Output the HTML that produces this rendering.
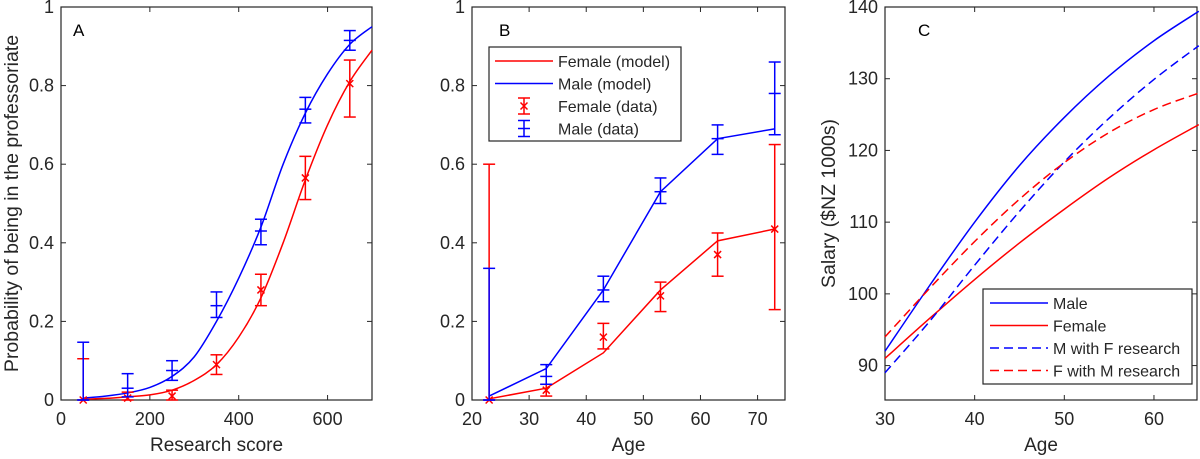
<!DOCTYPE html>
<html><head><meta charset="utf-8">
<style>
html,body{margin:0;padding:0;background:#fff;}
svg{display:block;font-family:"Liberation Sans",Arial,sans-serif;}
</style></head>
<body>
<svg id="chart" width="1200" height="459" viewBox="0 0 1200 459" xmlns="http://www.w3.org/2000/svg"></svg>
<script>
// ---------- Panel A data ----------
const aCurveX = [50,100,150,200,250,300,350,400,450,500,550,600,650,700];
const aMaleModel = [0.005,0.01,0.018,0.032,0.06,0.11,0.2,0.31,0.44,0.6,0.73,0.83,0.905,0.95];
const aFemaleModel = [0.002,0.004,0.008,0.013,0.025,0.05,0.09,0.16,0.26,0.4,0.56,0.7,0.81,0.89];
const aDataX = [50,150,250,350,450,550,650];
const aMaleData = [0,0.03,0.075,0.24,0.43,0.74,0.915];
const aMaleLo = [0,0.008,0.05,0.21,0.395,0.705,0.89];
const aMaleHi = [0.147,0.067,0.1,0.275,0.46,0.77,0.94];
const aFemaleData = [0,0.005,0.01,0.09,0.28,0.565,0.805];
const aFemaleLo = [0,0,0,0.065,0.24,0.51,0.72];
const aFemaleHi = [0.105,0.02,0.025,0.115,0.32,0.62,0.865];
const aXTicks = [0,200,400,600];
const aYTicks = [0,0.2,0.4,0.6,0.8,1];
// ---------- Panel B data ----------
const bAges = [23,33,43,53,63,73];
const bMaleModel = [0.01,0.08,0.28,0.53,0.665,0.69];
const bFemaleModel = [0.003,0.03,0.12,0.28,0.405,0.435];
const bMaleData = [0,0.06,0.28,0.53,0.665,0.78];
const bMaleLo = [0,0.04,0.25,0.5,0.625,0.675];
const bMaleHi = [0.335,0.09,0.315,0.565,0.7,0.86];
const bFemaleData = [0,0.025,0.16,0.265,0.37,0.435];
const bFemaleLo = [0,0.01,0.13,0.225,0.315,0.23];
const bFemaleHi = [0.6,0.04,0.195,0.3,0.425,0.65];
const bXTicks = [20,30,40,50,60,70];
const bYTicks = [0,0.2,0.4,0.6,0.8,1];
// ---------- Panel C data ----------
const cAges = [30,35,40,45,50,55,60,65];
const cMale = [92,101.2,110,117.9,124.6,130.4,135.3,139.4];
const cFemale = [91,96.6,102,107.1,111.8,116.2,120.1,123.6];
const cMaleFRes = [89,96.2,104,111.5,118.4,124.5,129.9,134.6];
const cFemaleMRes = [94,100.8,107.3,113.2,118.3,122.5,125.7,128];
const cXTicks = [30,40,50,60];
const cYTicks = [90,100,110,120,130,140];

const NS="http://www.w3.org/2000/svg";
const svg=document.getElementById('chart');
function mk(tag,attrs,parent){const e=document.createElementNS(NS,tag);for(const k in attrs)e.setAttribute(k,attrs[k]);(parent||svg).appendChild(e);return e;}
const RED='#ff0000', BLUE='#0000ff', TXT='#262626';

function smoothPath(pts){
  let d='M'+pts[0][0]+','+pts[0][1];
  for(let i=0;i<pts.length-1;i++){
    const p0=pts[Math.max(0,i-1)],p1=pts[i],p2=pts[i+1],p3=pts[Math.min(pts.length-1,i+2)];
    const c1=[p1[0]+(p2[0]-p0[0])/6,p1[1]+(p2[1]-p0[1])/6];
    const c2=[p2[0]-(p3[0]-p1[0])/6,p2[1]-(p3[1]-p1[1])/6];
    d+=' C'+c1[0]+','+c1[1]+' '+c2[0]+','+c2[1]+' '+p2[0]+','+p2[1];
  }
  return d;
}

function makeAxes(cfg){
  const g=mk('g',{});
  
  
  const sx=v=>cfg.x0+(v-cfg.xmin)/(cfg.xmax-cfg.xmin)*(cfg.x1-cfg.x0);
  const sy=v=>cfg.y1-(v-cfg.ymin)/(cfg.ymax-cfg.ymin)*(cfg.y1-cfg.y0);
  const fmt=cfg.fmt||(v=>String(v));
  cfg.xticks.forEach(t=>{
    const x=sx(t);
    mk('line',{x1:x,y1:cfg.y1,x2:x,y2:cfg.y1-5,stroke:TXT,'stroke-width':1},g);
    mk('line',{x1:x,y1:cfg.y0,x2:x,y2:cfg.y0+5,stroke:TXT,'stroke-width':1},g);
    const tx=mk('text',{x:x,y:cfg.y1+25,'text-anchor':'middle','font-size':18,fill:TXT},g);
    tx.textContent=t;
    
    
  });
  cfg.yticks.forEach(t=>{
    const y=sy(t);
    mk('line',{x1:cfg.x0,y1:y,x2:cfg.x0+5,y2:y,stroke:TXT,'stroke-width':1},g);
    mk('line',{x1:cfg.x1,y1:y,x2:cfg.x1-5,y2:y,stroke:TXT,'stroke-width':1},g);
    const tx=mk('text',{x:cfg.x0-7,y:y+6,'text-anchor':'end','font-size':18,fill:TXT},g);
    tx.textContent=fmt(t);
    
    
  });
  const box=mk('rect',{x:cfg.x0,y:cfg.y0,width:cfg.x1-cfg.x0,height:cfg.y1-cfg.y0,fill:'none',stroke:TXT,'stroke-width':1.2},g);
  
  
  const xl=mk('text',{x:(cfg.x0+cfg.x1)/2,y:cfg.y1+51,'text-anchor':'middle','font-size':19,fill:TXT},g);
  xl.textContent=cfg.xlabel;
  
  
  if(cfg.ylabel){
    const yl=mk('text',{x:0,y:0,'text-anchor':'middle','font-size':19.5,fill:TXT,transform:'translate('+cfg.ylx+','+((cfg.y0+cfg.y1)/2)+') rotate(-90)'},g);
    yl.textContent=cfg.ylabel;
    
    
  }
  const pl=mk('text',{x:cfg.x0+cfg.plx,y:cfg.y0+29,'font-size':17,fill:'#000'},g);
  pl.textContent=cfg.panel;
  
  
  return {g,sx,sy};
}

function drawLine(ax,xs,ys,color,dash,name,smooth){
  const pts=xs.map((x,i)=>[ax.sx(x),ax.sy(ys[i])]);
  const d=smooth?smoothPath(pts):'M'+pts.map(p=>p.join(',')).join(' L');
  const p=mk('path',{d:d,fill:'none',stroke:color,'stroke-width':1.5,'stroke-dasharray':dash||'none'},ax.g);
  
  
}

function drawErr(ax,xs,ys,lo,hi,color,marker,name){
  xs.forEach((xv,i)=>{
    const g=mk('g',{},ax.g);
    
    
    const x=ax.sx(xv),y=ax.sy(ys[i]),yl=ax.sy(lo[i]),yh=ax.sy(hi[i]);
    mk('line',{x1:x,y1:yl,x2:x,y2:yh,stroke:color,'stroke-width':1.5},g);
    mk('line',{x1:x-6,y1:yl,x2:x+6,y2:yl,stroke:color,'stroke-width':1.5},g);
    mk('line',{x1:x-6,y1:yh,x2:x+6,y2:yh,stroke:color,'stroke-width':1.5},g);
    if(marker==='x'){
      mk('path',{d:'M'+(x-3.5)+','+(y-3.5)+' L'+(x+3.5)+','+(y+3.5)+' M'+(x-3.5)+','+(y+3.5)+' L'+(x+3.5)+','+(y-3.5),stroke:color,'stroke-width':1.5},g);
    } else {
      mk('line',{x1:x-6,y1:y,x2:x+6,y2:y,stroke:color,'stroke-width':1.5},g);
    }
  });
}

// Panel A
const A=makeAxes({name:'panel-a',x0:61,x1:372,y0:7,y1:400,xmin:0,xmax:700,ymin:0,ymax:1,
  xticks:aXTicks,yticks:aYTicks,xlabel:'Research score',ylabel:'Probability of being in the professoriate',ylx:18,panel:'A',plx:12,
  fmt:v=>v===0||v===1?String(v):v.toFixed(1)});
drawLine(A,aCurveX,aFemaleModel,RED,null,'female-model-curve',true);
drawLine(A,aCurveX,aMaleModel,BLUE,null,'male-model-curve',true);
drawErr(A,aDataX,aFemaleData,aFemaleLo,aFemaleHi,RED,'x','female-data-point');
drawErr(A,aDataX,aMaleData,aMaleLo,aMaleHi,BLUE,'+','male-data-point');

// Panel B
const B=makeAxes({name:'panel-b',x0:472,x1:785,y0:7,y1:400,xmin:20,xmax:74.8,ymin:0,ymax:1,
  xticks:bXTicks,yticks:bYTicks,xlabel:'Age',ylabel:null,panel:'B',plx:27,
  fmt:v=>v===0||v===1?String(v):v.toFixed(1)});
drawLine(B,bAges,bFemaleModel,RED,null,'female-model-line',false);
drawLine(B,bAges,bMaleModel,BLUE,null,'male-model-line',false);
drawErr(B,bAges,bFemaleData,bFemaleLo,bFemaleHi,RED,'x','female-data-point');
drawErr(B,bAges,bMaleData,bMaleLo,bMaleHi,BLUE,'+','male-data-point');

// Panel C
const C=makeAxes({name:'panel-c',x0:885,x1:1197,y0:7,y1:400,xmin:30,xmax:64.8,ymin:85.2,ymax:140,
  xticks:cXTicks,yticks:cYTicks,xlabel:'Age',ylabel:'Salary ($NZ 1000s)',ylx:835,panel:'C',plx:33});
drawLine(C,cAges,cFemale,RED,null,'female-salary-line',true);
drawLine(C,cAges,cMale,BLUE,null,'male-salary-line',true);
drawLine(C,cAges,cMaleFRes,BLUE,'9,5','male-with-female-research-line',true);
drawLine(C,cAges,cFemaleMRes,RED,'9,5','female-with-male-research-line',true);

// Legend B
(function(){
  const g=mk('g',{});
  
  
  mk('rect',{x:489,y:47,width:192,height:94,fill:'#fff',stroke:TXT,'stroke-width':1.2},g);
  const items=[['Female (model)',RED,'line'],['Male (model)',BLUE,'line'],['Female (data)',RED,'x'],['Male (data)',BLUE,'+']];
  items.forEach((it,i)=>{
    const y=61+i*22.5;
    const e=mk('g',{},g);
    
    
    if(it[2]==='line'){mk('line',{x1:495,y1:y,x2:553,y2:y,stroke:it[1],'stroke-width':1.5},e);}
    else{
      const x=524;
      mk('line',{x1:x,y1:y-8,x2:x,y2:y+8,stroke:it[1],'stroke-width':1.5},e);
      mk('line',{x1:x-6,y1:y-8,x2:x+6,y2:y-8,stroke:it[1],'stroke-width':1.5},e);
      mk('line',{x1:x-6,y1:y+8,x2:x+6,y2:y+8,stroke:it[1],'stroke-width':1.5},e);
      if(it[2]==='x')mk('path',{d:'M'+(x-3.5)+','+(y-3.5)+' L'+(x+3.5)+','+(y+3.5)+' M'+(x-3.5)+','+(y+3.5)+' L'+(x+3.5)+','+(y-3.5),stroke:it[1],'stroke-width':1.5},e);
      else mk('line',{x1:x-6,y1:y,x2:x+6,y2:y,stroke:it[1],'stroke-width':1.5},e);
    }
    const t=mk('text',{x:558,y:y+6,'font-size':16,fill:TXT},e);
    t.textContent=it[0];
  });
})();

// Legend C
(function(){
  const g=mk('g',{});
  
  
  mk('rect',{x:983,y:289,width:209,height:95,fill:'#fff',stroke:TXT,'stroke-width':1.2},g);
  const items=[['Male',BLUE,'none'],['Female',RED,'none'],['M with F research',BLUE,'9,5'],['F with M research',RED,'9,5']];
  items.forEach((it,i)=>{
    const y=303+i*22.5;
    const e=mk('g',{},g);
    
    
    mk('line',{x1:990,y1:y,x2:1048,y2:y,stroke:it[1],'stroke-width':1.5,'stroke-dasharray':it[2]},e);
    const t=mk('text',{x:1053,y:y+6,'font-size':16,fill:TXT},e);
    t.textContent=it[0];
  });
})();
</script>
</body></html>
